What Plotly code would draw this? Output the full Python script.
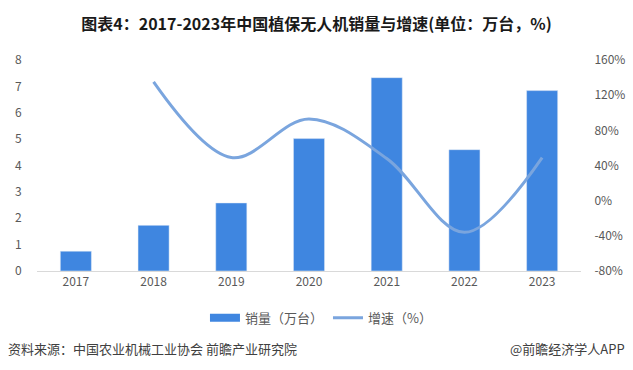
import plotly.graph_objects as go

years = ["2017", "2018", "2019", "2020", "2021", "2022", "2023"]
sales = [0.75, 1.73, 2.58, 5.02, 7.33, 4.60, 6.84]
growth_years = ["2018", "2019", "2020", "2021", "2022", "2023"]
growth = [135, 49, 93, 48, -36, 49]

left_ticks = [0, 1, 2, 3, 4, 5, 6, 7, 8]
right_ticks = [-80, -40, 0, 40, 80, 120, 160]
right_labels = [f"{v}%" for v in right_ticks]

font_family = "Noto Sans CJK SC, Microsoft YaHei, sans-serif"
bar_color = "#3f86e0"
line_color = "#7aa5de"

fig = go.Figure()
fig.add_trace(go.Bar(
    x=years, y=sales, name="销量（万台）", showlegend=False,
    marker=dict(color=bar_color), width=0.4,
))
fig.add_trace(go.Scatter(
    x=[None], y=[None], name="销量（万台）", mode="lines",
    line=dict(color=bar_color, width=8),
))
fig.add_trace(go.Scatter(
    x=growth_years, y=growth, name="增速（%）", yaxis="y2",
    mode="lines", line=dict(color=line_color, width=3, shape="spline", smoothing=1.0),
))

fig.update_layout(
    width=633, height=370,
    margin=dict(l=37, r=52, t=60, b=99, autoexpand=False),
    paper_bgcolor="white", plot_bgcolor="white",
    font=dict(family=font_family, color="#595959", size=12),
    title=dict(text="<b>图表4：2017-2023年中国植保无人机销量与增速(单位：万台，%)</b>",
               x=0.5, xanchor="center", y=0.935, yanchor="middle",
               font=dict(size=16, color="#1a1a1a", family=font_family)),
    xaxis=dict(type="category", showline=True, linecolor="#d9d9d9", linewidth=1,
               ticks="", showgrid=False, automargin=False,
               tickfont=dict(size=12, color="#595959")),
    yaxis=dict(range=[0, 8], tickvals=left_ticks, showgrid=False, zeroline=False,
               showline=False, ticks="outside", ticklen=12, tickcolor="rgba(0,0,0,0)",
               automargin=False, tickfont=dict(size=12, color="#595959")),
    yaxis2=dict(range=[-80, 160], tickvals=right_ticks, ticktext=right_labels,
                overlaying="y", side="right", showgrid=False, zeroline=False,
                showline=False, ticks="outside", ticklen=10, tickcolor="rgba(0,0,0,0)",
                automargin=False, tickfont=dict(size=12, color="#595959")),
    legend=dict(orientation="h", x=0.522, xanchor="center", y=-0.222, yanchor="middle",
                font=dict(size=13, color="#595959"), itemwidth=30, traceorder="normal"),
    showlegend=True,
)

fig.add_annotation(text="资料来源：中国农业机械工业协会 前瞻产业研究院", xref="paper", yref="paper",
                   x=-0.057, y=-0.365, xanchor="left", yanchor="middle", showarrow=False,
                   font=dict(size=13, color="#404040"))
fig.add_annotation(text="@前瞻经济学人APP", xref="paper", yref="paper",
                   x=1.084, y=-0.365, xanchor="right", yanchor="middle", showarrow=False,
                   font=dict(size=13, color="#404040"))

fig.write_html("out.html", config={"displayModeBar": False},
               post_script="document.body.style.margin='0';document.body.style.padding='0';")
